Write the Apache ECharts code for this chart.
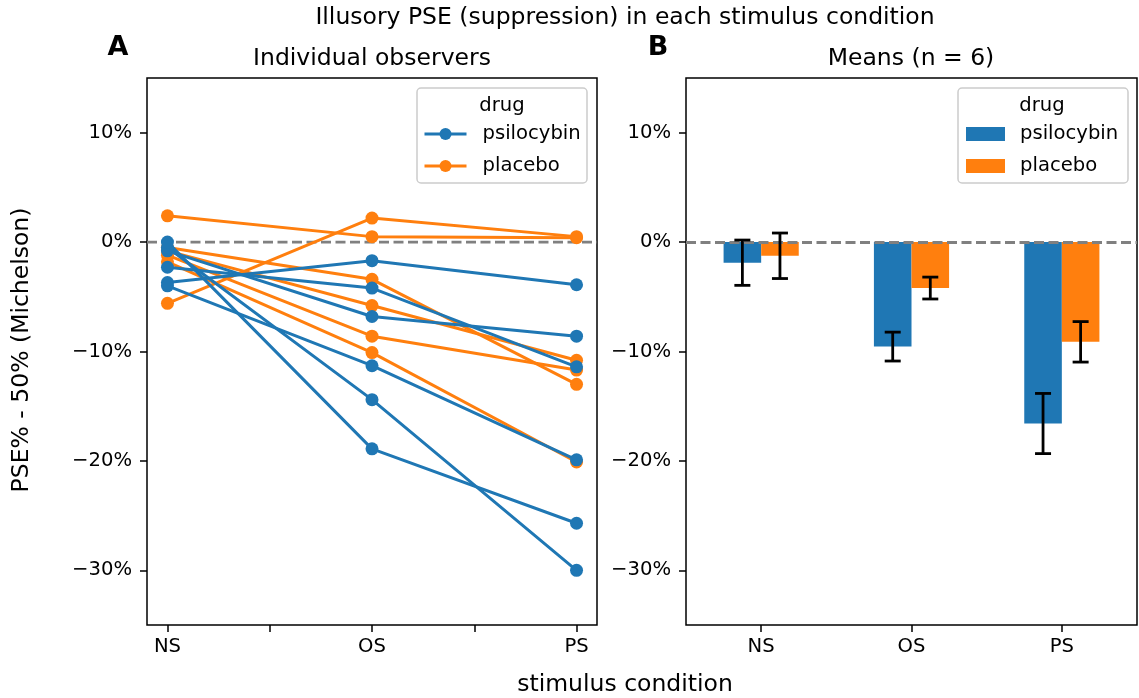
<!DOCTYPE html>
<html>
<head>
<meta charset="utf-8">
<title>Illusory PSE (suppression) in each stimulus condition</title>
<script src="https://cdn.jsdelivr.net/npm/echarts@6/dist/echarts.min.js"></script>
<style>
  html, body { margin: 0; padding: 0; background: #fff; }
  #chart { width: 1139px; height: 698px; }
</style>
</head>
<body>
<div id="chart"></div>
<script>
// Stimulus conditions and drugs
const conditions = ['NS', 'OS', 'PS'];
const drugs = ['psilocybin', 'placebo'];
const drugColors = ['#1f77b4', '#ff7f0e'];

// Individual observers: PSE% - 50% per condition (one entry per observer)
const psilocybinNS = [-3.7, -2.3, -0.8, -4.0, -0.5, 0.0];
const psilocybinOS = [-1.7, -4.2, -6.8, -11.3, -14.4, -18.9];
const psilocybinPS = [-3.9, -11.4, -8.6, -19.9, -30.0, -25.7];
const placeboNS = [2.4, -5.6, -0.5, -0.8, -1.2, -1.8];
const placeboOS = [0.5, 2.2, -3.4, -5.8, -8.6, -10.1];
const placeboPS = [0.4, 0.5, -13.0, -10.8, -11.7, -20.1];

// Error bar half-widths for the group means (NS, OS, PS)
const psilocybinErr = [2.07, 1.32, 2.75];
const placeboErr = [2.08, 1.0, 1.85];

// Axis ticks
const yTicks = [-30, -20, -10, 0, 10];
const yMin = -35, yMax = 15;
const xMin = -0.1, xMax = 2.1;
const xTicks = [0, 0.5, 1, 1.5, 2];
const xLabelTicks = [0, 1, 2];

const FONT = 'DejaVu Sans';
const SMALL = 19.6;
const LARGE = 23.5;
const LINE_W = 3;

const individual = {
  psilocybin: [psilocybinNS, psilocybinOS, psilocybinPS],
  placebo: [placeboNS, placeboOS, placeboPS]
};
const errors = { psilocybin: psilocybinErr, placebo: placeboErr };

const mean = arr => arr.reduce((a, b) => a + b, 0) / arr.length;
const pct = v => (v < 0 ? '\u2212' : '') + Math.abs(v) + '%';

const dashStyle = { color: '#808080', width: 2.8, type: [10, 4.5] };
const series = [];

// zero reference line, panel A (under the observers)
series.push({
  type: 'line', name: 'zero', xAxisIndex: 0, yAxisIndex: 0,
  data: [[xMin, 0], [xMax, 0]], symbol: 'none', silent: true, z: 1,
  lineStyle: dashStyle
});

// one line per observer; placebo drawn first so psilocybin sits on top
['placebo', 'psilocybin'].forEach(drug => {
  const d = drugs.indexOf(drug);
  const cols = individual[drug];
  for (let i = 0; i < cols[0].length; i++) {
    series.push({
      type: 'line', name: drug, xAxisIndex: 0, yAxisIndex: 0,
      data: cols.map((c, k) => [k, c[i]]),
      symbol: 'circle', symbolSize: 13, color: drugColors[d],
      lineStyle: { width: LINE_W, color: drugColors[d] },
      itemStyle: { color: drugColors[d] },
      z: d === 0 ? 3 : 2
    });
  }
});

// panel B: means with error bars
drugs.forEach((drug, d) => {
  const means = individual[drug].map(mean);
  series.push({
    type: 'bar', name: drug + ' (mean)', xAxisIndex: 1, yAxisIndex: 1,
    data: means, barWidth: '25%', barGap: '0%',
    itemStyle: { color: drugColors[d] },
    markLine: d === 1 ? {
      silent: true, symbol: 'none', label: { show: false },
      lineStyle: dashStyle,
      data: [{ yAxis: 0 }]
    } : undefined
  });
  const errData = means.map((m, k) => [k, m - errors[drug][k], m + errors[drug][k]]);
  series.push({
    type: 'custom', name: drug + ' error', xAxisIndex: 1, yAxisIndex: 1,
    data: errData, z: 6, silent: true,
    renderItem: (params, api) => {
      const k = api.value(0);
      const lo = api.coord([k, api.value(1)]);
      const hi = api.coord([k, api.value(2)]);
      const band = api.size([1, 0])[0];
      const x = lo[0] + (d === 0 ? -0.125 : 0.125) * band;
      const cap = 8;
      const st = { stroke: '#000', lineWidth: 2.8 };
      return {
        type: 'group',
        children: [
          { type: 'line', shape: { x1: x, y1: lo[1], x2: x, y2: hi[1] }, style: st },
          { type: 'line', shape: { x1: x - cap, y1: lo[1], x2: x + cap, y2: lo[1] }, style: st },
          { type: 'line', shape: { x1: x - cap, y1: hi[1], x2: x + cap, y2: hi[1] }, style: st }
        ]
      };
    }
  });
});

const axisText = { color: '#000', fontFamily: FONT, fontSize: SMALL };
const tickStyle = { show: true, length: 7, lineStyle: { color: '#000', width: 1.5 } };
const hiddenLine = { show: false, onZero: false };

function yAxisFor(grid) {
  return {
    type: 'value', gridIndex: grid, min: yMin, max: yMax, position: 'left',
    axisLine: hiddenLine,
    splitLine: { show: false },
    axisTick: Object.assign({ customValues: yTicks }, tickStyle),
    axisLabel: Object.assign({ customValues: yTicks, margin: 15, formatter: pct }, axisText)
  };
}

function legendBox(x, y, w, h) {
  return {
    type: 'rect', z: 3, silent: true,
    shape: { x: x, y: y, width: w, height: h, r: 4 },
    style: { fill: 'rgba(255,255,255,0.8)', stroke: '#cccccc', lineWidth: 1.5 }
  };
}
function text(x, y, str, size, extra) {
  return Object.assign({
    type: 'text', x: x, y: y, silent: true,
    style: Object.assign({
      text: str, fill: '#000', font: size + 'px "' + FONT + '"',
      textAlign: 'center', textVerticalAlign: 'middle'
    }, extra && extra.style)
  }, extra && extra.el);
}

const option = {
  animation: false,
  backgroundColor: '#fff',
  grid: [
    { left: 147, top: 78, width: 450, height: 547, show: true, borderColor: '#000', borderWidth: 1.5, backgroundColor: 'transparent' },
    { left: 686, top: 78, width: 451, height: 547, show: true, borderColor: '#000', borderWidth: 1.5, backgroundColor: 'transparent' }
  ],
  xAxis: [
    {
      type: 'value', gridIndex: 0, min: xMin, max: xMax, position: 'bottom',
      axisLine: hiddenLine, splitLine: { show: false },
      axisTick: Object.assign({ customValues: xTicks }, tickStyle),
      axisLabel: Object.assign({ customValues: xLabelTicks, margin: 12, formatter: v => conditions[Math.round(v)] }, axisText)
    },
    {
      type: 'category', gridIndex: 1, data: conditions, boundaryGap: true, position: 'bottom',
      axisLine: hiddenLine, splitLine: { show: false },
      axisTick: Object.assign({ alignWithLabel: true }, tickStyle),
      axisLabel: Object.assign({ margin: 12 }, axisText)
    }
  ],
  yAxis: [yAxisFor(0), yAxisFor(1)],
  legend: [
    {
      orient: 'vertical', left: 423, top: 124, padding: 0, itemGap: 12,
      itemWidth: 42, itemHeight: 15, z: 4,
      data: drugs,
      lineStyle: { width: LINE_W },
      textStyle: { color: '#000', fontFamily: FONT, fontSize: SMALL, lineHeight: 20, padding: [0, 0, 0, 11] }
    },
    {
      orient: 'vertical', left: 966, top: 124, padding: 0, itemGap: 12,
      itemWidth: 39, itemHeight: 14, icon: 'rect', z: 4,
      data: drugs.map(d => d + ' (mean)'),
      formatter: n => n.replace(' (mean)', ''),
      textStyle: { color: '#000', fontFamily: FONT, fontSize: SMALL, lineHeight: 20, padding: [0, 0, 0, 10] }
    }
  ],
  graphic: [
    text(625, 18, 'Illusory PSE (suppression) in each stimulus condition', LARGE),
    text(118, 48, 'A', 27, { style: { font: 'bold 27px "' + FONT + '"' } }),
    text(658, 48, 'B', 27, { style: { font: 'bold 27px "' + FONT + '"' } }),
    text(372, 59, 'Individual observers', LARGE),
    text(911, 59, 'Means (n = 6)', LARGE),
    text(625, 685, 'stimulus condition', LARGE),
    text(22, 350, 'PSE% - 50% (Michelson)', LARGE, { el: { rotation: Math.PI / 2 } }),
    legendBox(417, 88, 170, 95),
    legendBox(958, 88, 170, 95),
    Object.assign(text(502, 106, 'drug', SMALL), { z: 4 }),
    Object.assign(text(1042, 106, 'drug', SMALL), { z: 4 })
  ],
  series: series
};

const chart = echarts.init(document.getElementById('chart'), null, { renderer: 'canvas' });
chart.setOption(option);
</script>
</body>
</html>
